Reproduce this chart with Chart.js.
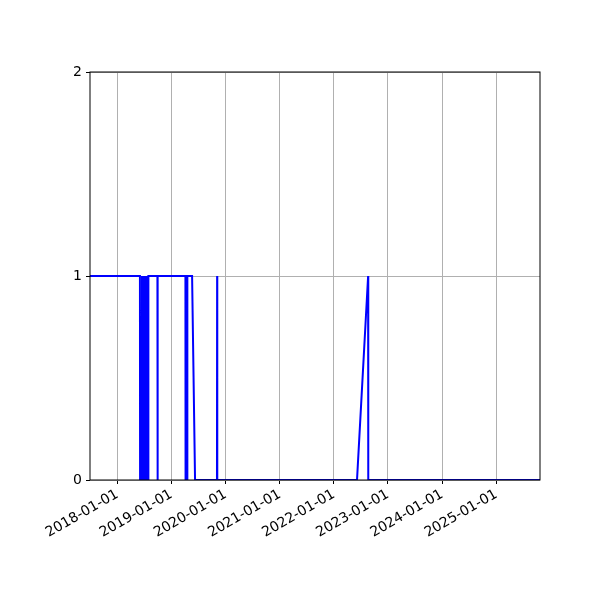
<!DOCTYPE html>
<html lang="en">
<head>
<meta charset="UTF-8">
<title>Status over time</title>
<script src="https://cdn.jsdelivr.net/npm/chart.js"></script>
<style>
  html, body { margin: 0; padding: 0; background: #fff; }
</style>
</head>
<body>
<canvas id="chart" width="600" height="600"></canvas>
<script>
// data: change points of a 0/1 series
const dates = [
  '2017-06-30', '2018-06-02', '2018-06-03', '2018-06-15', '2018-06-16',
  '2018-06-18', '2018-06-20', '2018-06-22', '2018-06-24', '2018-06-26',
  '2018-06-28', '2018-06-30', '2018-07-02', '2018-07-04', '2018-07-06',
  '2018-07-08', '2018-07-10', '2018-07-12', '2018-07-14', '2018-07-16',
  '2018-07-18', '2018-07-20', '2018-07-22', '2018-07-24', '2018-07-26',
  '2018-07-28', '2018-07-29', '2018-09-28', '2018-09-29', '2018-09-30',
  '2019-04-05', '2019-04-06', '2019-04-17', '2019-04-18', '2019-05-20',
  '2019-06-09', '2019-11-04', '2019-11-05', '2019-11-06', '2022-06-06',
  '2022-08-20', '2022-08-21', '2025-10-23'
];
const values = [
  1, 1, 0, 0, 1,
  0, 1, 0, 1, 0,
  1, 0, 1, 0, 1,
  0, 1, 0, 1, 0,
  1, 0, 1, 0, 1,
  0, 1, 1, 0, 1,
  1, 0, 0, 1, 1,
  0, 0, 1, 0, 0,
  1, 0, 0
];
const xTickLabels = ['2018-01-01', '2019-01-01', '2020-01-01', '2021-01-01',
                     '2022-01-01', '2023-01-01', '2024-01-01', '2025-01-01'];
const yTicks = [0, 1, 2];

const points = dates.map((d, i) => ({ x: Date.parse(d), y: values[i] }));

// black box round the plot, like matplotlib spines
const frame = {
  id: 'frame',
  afterDatasetsDraw(chart) {
    const a = chart.chartArea, ctx = chart.ctx;
    ctx.save();
    ctx.strokeStyle = '#000';
    ctx.lineWidth = 1;
    ctx.strokeRect(a.left, a.top, a.right - a.left, a.bottom - a.top);
    ctx.restore();
  }
};

const tickFont = { family: 'DejaVu Sans', size: 14 };

new Chart(document.getElementById('chart'), {
  type: 'line',
  data: {
    datasets: [{
      data: points,
      borderColor: '#0000ff',
      borderWidth: 2,
      pointRadius: 0,
      tension: 0,
      fill: false
    }]
  },
  options: {
    responsive: false,
    animation: false,
    layout: { padding: { top: 72, right: 60, left: 0, bottom: 0 } },
    plugins: { legend: { display: false }, tooltip: { enabled: false } },
    scales: {
      x: {
        type: 'linear',
        min: Date.parse(dates[0]),
        max: Date.parse(dates[dates.length - 1]),
        afterBuildTicks(scale) {
          scale.ticks = xTickLabels.map(l => ({ value: Date.parse(l) }));
        },
        afterFit(scale) { scale.height = 120; },
        border: { display: false },
        grid: { color: '#b0b0b0', lineWidth: 1, tickColor: '#000', tickLength: 4 },
        ticks: {
          autoSkip: false,
          minRotation: 30,
          maxRotation: 30,
          color: '#000',
          font: tickFont,
          padding: 2,
          callback: v => new Date(v).toISOString().slice(0, 10)
        }
      },
      y: {
        min: 0,
        max: 2,
        afterBuildTicks(scale) {
          scale.ticks = yTicks.map(v => ({ value: v }));
        },
        afterFit(scale) { scale.width = 90; },
        border: { display: false },
        grid: { color: '#b0b0b0', lineWidth: 1, tickColor: '#000', tickLength: 4 },
        ticks: { color: '#000', font: tickFont, padding: 4 }
      }
    }
  },
  plugins: [frame]
});
</script>
</body>
</html>
